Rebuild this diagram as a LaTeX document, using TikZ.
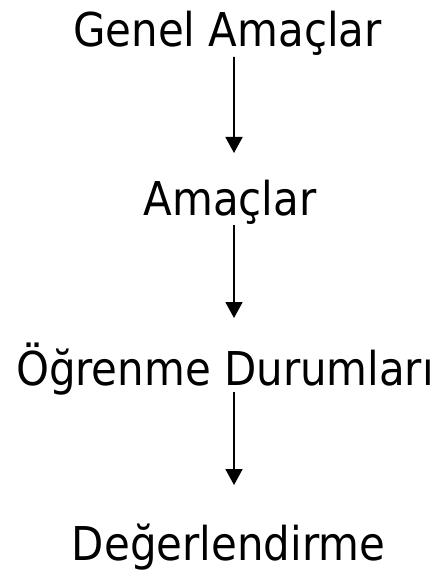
\documentclass[tikz,border=0pt]{standalone}
\usepackage{fontspec}
\setmainfont{DejaVu Sans Condensed}
\usetikzlibrary{arrows.meta}
\tikzset{
  lbl/.style={anchor=base, inner sep=0pt, font=\fontsize{46.6bp}{50bp}\selectfont},
  arr/.style={line width=1.8bp, -{Triangle[width=17bp,length=16bp]}}
}
\begin{document}
\begin{tikzpicture}[x=1bp,y=-1bp]
\useasboundingbox (0,0) rectangle (446,576);
\node[lbl] (ga) at (227.5,47) {Genel Amaçlar};
\node[lbl] (am) at (230,215) {Amaçlar};
\node[lbl] (od) at (225,385) {Öğrenme Durumları};
\node[lbl] (de) at (228.5,560) {Değerlendirme};
\draw[arr] ([xshift=6.5bp,yshift=-10bp]ga.base) -- ([xshift=4bp,yshift=62bp]am.base);
\draw[arr] ([xshift=4bp,yshift=-10bp]am.base) -- ([xshift=9bp,yshift=67bp]od.base);
\draw[arr] ([xshift=9bp,yshift=-7bp]od.base) -- ([xshift=5.5bp,yshift=75bp]de.base);
\end{tikzpicture}
\end{document}
